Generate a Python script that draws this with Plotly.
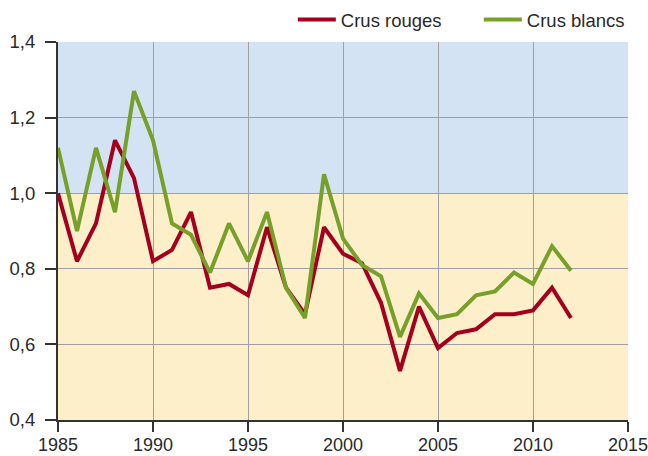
import plotly.graph_objects as go

years = list(range(1985, 2013))
crus_rouges = [1.00, 0.82, 0.92, 1.14, 1.04, 0.82, 0.85, 0.95, 0.75, 0.76,
               0.73, 0.91, 0.75, 0.68, 0.91, 0.84, 0.815, 0.71, 0.53, 0.70,
               0.59, 0.63, 0.64, 0.68, 0.68, 0.69, 0.75, 0.67]
crus_blancs = [1.12, 0.90, 1.12, 0.95, 1.27, 1.14, 0.92, 0.89, 0.79, 0.92,
               0.82, 0.95, 0.75, 0.67, 1.05, 0.88, 0.81, 0.78, 0.62, 0.735,
               0.67, 0.68, 0.73, 0.74, 0.79, 0.76, 0.86, 0.795]
x_ticks = [1985, 1990, 1995, 2000, 2005, 2010, 2015]
y_ticks = [0.4, 0.6, 0.8, 1.0, 1.2, 1.4]

RED = "#A3001E"
GREEN = "#77A02A"

fig = go.Figure()
fig.add_trace(go.Scatter(x=years, y=crus_rouges, mode="lines", name="Crus rouges",
                         line=dict(color=RED, width=4)))
fig.add_trace(go.Scatter(x=years, y=crus_blancs, mode="lines", name="Crus blancs",
                         line=dict(color=GREEN, width=4)))

fig.add_shape(type="rect", xref="x", yref="y", x0=1985, x1=2015, y0=1.0, y1=1.4,
              fillcolor="#D4E3F3", line_width=0, layer="below")
fig.add_shape(type="rect", xref="x", yref="y", x0=1985, x1=2015, y0=0.4, y1=1.0,
              fillcolor="#FDEFC9", line_width=0, layer="below")

fig.update_layout(
    width=648, height=456,
    margin=dict(l=58, r=20, t=42, b=36, autoexpand=False),
    paper_bgcolor="white", plot_bgcolor="white",
    separators=", ",
    font=dict(family="Liberation Sans, Arial, sans-serif", size=18.5, color="#2a2a2a"),
    showlegend=True,
    legend=dict(orientation="h", x=0.412, xanchor="left", y=1.058, yanchor="middle",
                font=dict(size=18.5), bgcolor="rgba(0,0,0,0)", itemwidth=38,
                entrywidth=133, tracegroupgap=0),
)
fig.update_xaxes(range=[1985, 2015], tickvals=x_ticks, showgrid=True,
                 gridcolor="#A0A0A0", gridwidth=1, showline=True, linecolor="#333",
                 linewidth=2, ticks="outside", ticklen=10, tickcolor="#333", tickwidth=1.5,
                 ticklabeloverflow="allow", ticklabelstandoff=-3,
                 tickfont=dict(size=18),
                 zeroline=False, fixedrange=True, automargin=False)
fig.update_yaxes(range=[0.4, 1.4], tickvals=y_ticks, tickformat=".1f", showgrid=True,
                 gridcolor="#A0A0A0", gridwidth=1, showline=True, linecolor="#333",
                 linewidth=2, ticks="outside", ticklen=11, tickcolor="#333", tickwidth=1.5,
                 ticklabelstandoff=6, ticklabeloverflow="allow",
                 zeroline=False, fixedrange=True, automargin=False)

fig.write_html("out.html", config={"displayModeBar": False},
               post_script="document.body.style.margin='0';document.body.style.overflow='hidden';")
